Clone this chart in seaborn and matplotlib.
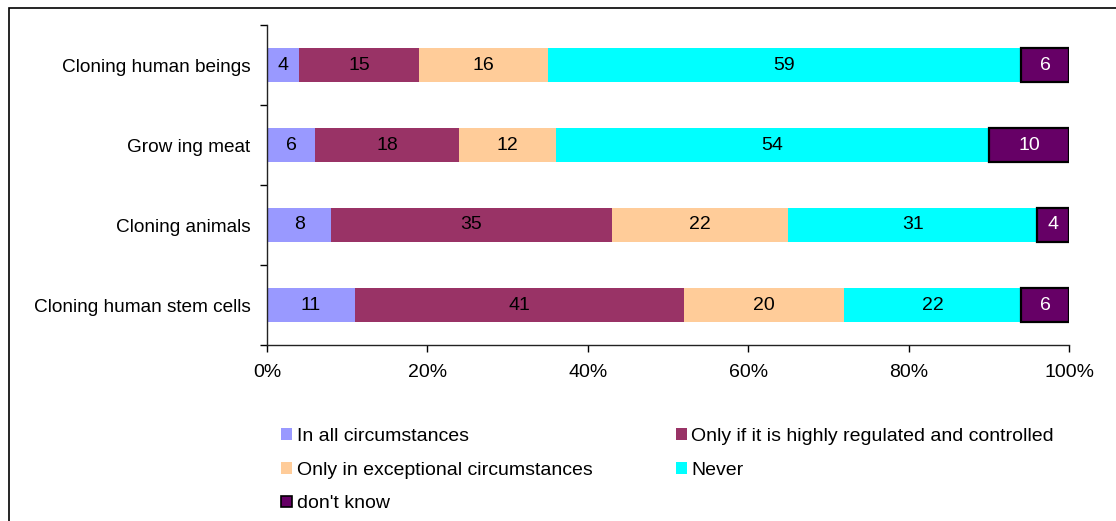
import matplotlib
matplotlib.use("Agg")
import matplotlib.pyplot as plt
import seaborn as sns
import numpy as np
from matplotlib.patches import Patch, Rectangle
from matplotlib.ticker import FuncFormatter, FixedLocator

categories = ["Cloning human beings", "Grow ing meat", "Cloning animals", "Cloning human stem cells"]
series_names = ["In all circumstances", "Only if it is highly regulated and controlled",
                "Only in exceptional circumstances", "Never", "don't know"]
in_all = [4, 6, 8, 11]
regulated = [15, 18, 35, 41]
exceptional = [16, 12, 22, 20]
never = [59, 54, 31, 22]
dont_know = [6, 10, 4, 6]
x_ticks = [0, 20, 40, 60, 80, 100]

series_values = [in_all, regulated, exceptional, never, dont_know]
colors = ["#9999FF", "#993366", "#FFCC99", "#00FFFF", "#660066"]
label_colors = ["black", "black", "black", "black", "white"]

sns.set_theme(style="white")
plt.rcParams["font.family"] = ["Liberation Sans", "DejaVu Sans"]
plt.rcParams["text.color"] = "black"
FS = 14

fig = plt.figure(figsize=(11.16, 5.21), dpi=100)
ax = fig.add_axes([267 / 1116, 1 - 345 / 521, (1069 - 267) / 1116, 320 / 521])

lefts = np.zeros(len(categories))
for name, vals, col, lc in zip(series_names, series_values, colors, label_colors):
    is_dk = name == "don't know"
    sns.barplot(x=vals, y=categories, order=categories, orient="h", color=col,
                width=0.43, left=list(lefts), ax=ax, saturation=1,
                edgecolor="black" if is_dk else col,
                linewidth=1.6 if is_dk else 0)
    cont = ax.containers[-1]
    ax.bar_label(cont, labels=[str(v) for v in vals], label_type="center",
                 color=lc, fontsize=FS)
    lefts = lefts + np.array(vals)

ax.set_xlim(0, 100)
ax.set_ylim(3.5, -0.5)
ax.xaxis.set_major_locator(FixedLocator(x_ticks))
ax.xaxis.set_major_formatter(FuncFormatter(lambda v, p: f"{int(v)}%"))
ax.set_xlabel("")
ax.set_ylabel("")

ax.yaxis.set_minor_locator(FixedLocator([-0.5, 0.5, 1.5, 2.5, 3.5]))
ax.tick_params(axis="y", which="major", length=0, pad=12, labelsize=13.7, colors="black")
ax.tick_params(axis="y", which="minor", left=True, length=5, width=1, color="black", direction="out")
ax.tick_params(axis="x", which="major", bottom=True, length=5, width=1, color="black",
               direction="out", pad=9, labelsize=FS, labelcolor="black")

for s in ["top", "right"]:
    ax.spines[s].set_visible(False)
for s in ["left", "bottom"]:
    ax.spines[s].set_visible(True)
    ax.spines[s].set_color("#222222")
    ax.spines[s].set_linewidth(1)

handles = [Patch(facecolor=c, edgecolor=("black" if i == 4 else c), linewidth=(1.2 if i == 4 else 0))
           for i, c in enumerate(colors)]
order_idx = [0, 2, 4, 1, 3]
leg = fig.legend([handles[i] for i in order_idx], [series_names[i] for i in order_idx],
                 ncol=2, loc="upper left", bbox_to_anchor=(281 / 1116, 1 - 428 / 521),
                 frameon=False, fontsize=FS, handlelength=0.55, handleheight=0.55,
                 handletextpad=0.25, labelspacing=0.86, columnspacing=4.3,
                 borderpad=0, borderaxespad=0, labelcolor="black")

fig.patches.append(Rectangle((9 / 1116, -0.2), 1.5, 1.2 - 8 / 521,
                             transform=fig.transFigure, fill=False,
                             edgecolor="black", linewidth=1.2))

fig.savefig("out.png", dpi=100)
